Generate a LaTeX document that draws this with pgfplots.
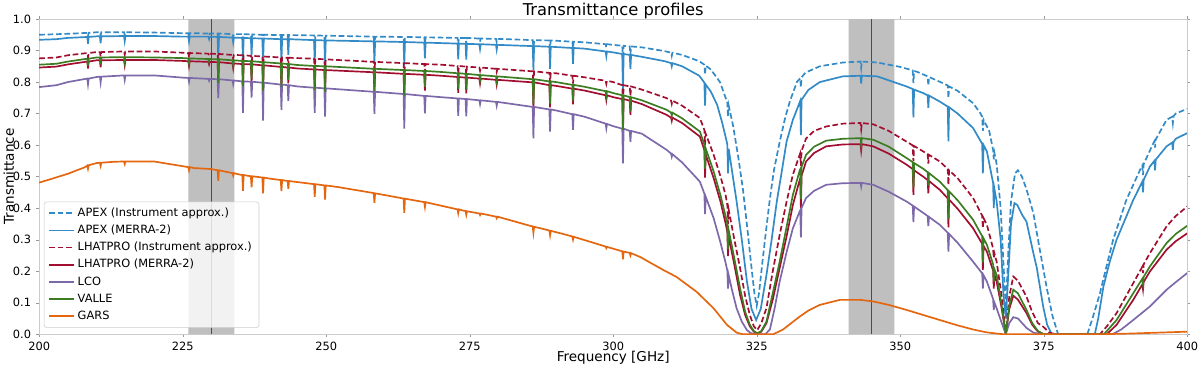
\documentclass[border=0pt]{standalone}
\usepackage{fontspec}
\setmainfont{DejaVu Sans}
\usepackage{pgfplots}
\pgfplotsset{compat=1.18}

\definecolor{cblue}{RGB}{50,138,198}
\definecolor{cred}{RGB}{162,14,48}
\definecolor{cgreen}{RGB}{60,125,35}
\definecolor{cpurple}{RGB}{125,105,170}
\definecolor{corange}{RGB}{228,102,15}
\definecolor{band}{RGB}{191,191,191}

\begin{document}
\begin{tikzpicture}
\begin{axis}[
    scale only axis,
    width=28.7cm, height=7.88cm,
    xmin=200, xmax=400, ymin=0, ymax=1,
    xtick={200,225,...,400},
    ytick={0,0.1,...,1.0},
    /pgf/number format/assume math mode=true,
    yticklabel style={/pgf/number format/fixed, /pgf/number format/fixed zerofill, /pgf/number format/precision=1},
    ticklabel style={font=\fontsize{8.1}{10}\selectfont},
    tick align=outside, major tick length=0.08cm,
    tick style={black!40},
    axis line style={black!20},
    every axis title shift=0pt,
    title={Transmittance profiles},
    title style={font=\fontsize{11.6}{14}\selectfont, at={(axis description cs:0.5,1)}, anchor=base, inner sep=0pt, yshift=0.1cm},
    xlabel={Frequency [GHz]},
    xlabel style={font=\fontsize{9.65}{12}\selectfont, at={(axis description cs:0.5,0)}, anchor=base, inner sep=0pt, yshift=-0.685cm},
    ylabel={Transmittance},
    ylabel style={font=\fontsize{9.65}{12}\selectfont, at={(axis description cs:-0.022,0.5)}, anchor=base, inner sep=0pt},
    legend cell align=left,
    legend style={at={(axis description cs:0.004,0.02)}, anchor=south west,
        font=\fontsize{8.1}{10}\selectfont, draw=black!20, rounded corners=2pt,
        fill=white, fill opacity=0.8, text opacity=1, draw opacity=1,
        nodes={text height=6.2pt, text depth=1.8pt, inner sep=2.1pt},
        /tikz/every even column/.append style={column sep=0.15cm}},
    every axis plot/.append style={line width=1.2pt},
    every axis plot post/.append style={legend image code/.code={\draw[#1] (0cm,0cm) -- (0.62cm,0cm);}},
]
% observation bands
\addplot[draw=none, fill=band, forget plot] coordinates {(226,0) (226,1) (234,1) (234,0)} \closedcycle;
\addplot[draw=none, fill=band, forget plot] coordinates {(341,0) (341,1) (349,1) (349,0)} \closedcycle;
\addplot[black!70, line width=0.9pt, forget plot] coordinates {(230,0) (230,1)};
\addplot[black!70, line width=0.9pt, forget plot] coordinates {(345,0) (345,1)};

% APEX (Instrument approx.)
\addplot[cblue, dash pattern=on 4pt off 2pt] coordinates {
(200,.950)(205,.953)
(208.38,.956)(208.5,.946)(208.62,.956)(210,.958)
(210.58,.958)(210.7,.948)(210.82,.958)
(214.78,.958)(214.9,.950)(215.02,.958)
(220,.957)(225,.955)
(225.98,.955)(226.1,.940)(226.22,.955)
(229.48,.954)(229.6,.948)(229.72,.954)
(231.08,.954)(231.2,.924)(231.32,.954)
(233.68,.952)(233.8,.942)(233.92,.952)
(235.38,.952)(235.5,.922)(235.62,.952)
(236.88,.951)(237,.931)(237.12,.951)
(238.88,.950)(239,.915)(239.12,.950)
(242.08,.949)(242.2,.919)(242.32,.949)
(243.28,.949)(243.4,.929)(243.52,.949)
(247.88,.948)(248,.918)(248.12,.948)
(249.68,.947)(249.8,.912)(249.92,.947)
(258.28,.944)(258.4,.914)(258.52,.944)
(263.48,.943)(263.6,.903)(263.72,.943)
(267.08,.942)(267.2,.922)(267.32,.942)
(272.88,.940)(273,.920)(273.12,.940)
(274.28,.940)(274.4,.920)(274.52,.940)
(276.68,.938)(276.8,.928)(276.92,.938)
(279.58,.937)(279.7,.927)(279.82,.937)
(285.98,.933)(286.1,.898)(286.22,.933)
(288.88,.932)(289,.907)(289.12,.932)
(292.88,.928)(293,.908)(293.12,.928)
(295,.926)
(298.68,.920)(298.8,.910)(298.92,.920)
(300,.918)
(301.58,.915)(301.7,.855)(301.82,.915)
(302.88,.913)(303,.888)(303.12,.913)
(305,.910)(309,.898)
(310.08,.893)(310.2,.883)(310.32,.893)
(312,.886)(315,.866)
(315.88,.855)(316,.823)(316.12,.852)
(317,.84)(318.6,.80)
(319.88,.735)(320,.69)(320.12,.725)
(320.9,.66)(321.8,.56)(322.6,.46)(323.4,.33)(324.1,.21)(324.6,.13)(325.0,.09)(325.4,.13)(326.0,.23)(326.7,.34)(327.3,.43)(328.0,.52)(329.0,.61)(330.0,.69)(330.8,.74)(332.0,.80)
(332.58,.812)(332.7,.783)(332.82,.815)
(333.5,.83)(336,.85)(340,.862)
(343.08,.865)(343.2,.845)(343.32,.865)
(346,.862)(350,.848)
(352.18,.837)(352.3,.797)(352.42,.835)
(353,.832)
(354.78,.818)(354.9,.788)(355.02,.816)
(357,.80)
(358.28,.789)(358.4,.749)(358.52,.786)
(360,.772)(362.7,.733)(364,.70)
(364.28,.69)(364.4,.645)(364.52,.68)
(365.5,.645)
(366.18,.585)(366.3,.555)(366.42,.575)
(366.8,.54)(367.5,.40)(368.0,.22)(368.4,.08)(368.8,.25)(369.3,.42)(370.0,.51)(370.5,.52)(371.2,.50)(372,.46)(373.2,.384)(374.3,.27)(375.0,.20)(375.5,.15)(376.5,.06)(377.5,0)(382.6,0)(383.5,.05)(384.8,.13)(386,.22)(387.1,.30)(389.4,.426)(391.8,.522)
(392.18,.535)(392.3,.505)(392.42,.54)
(394.1,.606)
(394.28,.612)(394.4,.592)(394.52,.618)
(396.4,.68)
(397.38,.69)(397.5,.67)(397.62,.692)
(398,.70)(400,.715)
};
\addlegendentry{APEX (Instrument approx.)}

% APEX (MERRA-2)
\addplot[cblue] coordinates {
(200,.934)(203,.936)(205,.940)
(208.38,.943)(208.5,.921)(208.62,.943)(210,.945)
(210.58,.945)(210.7,.923)(210.82,.945)
(214.78,.946)(214.9,.930)(215.02,.946)
(220,.946)(225,.944)
(225.98,.944)(226.1,.929)(226.22,.944)
(229.48,.944)(229.6,.936)(229.72,.944)
(231.08,.943)(231.2,.873)(231.32,.943)
(233.68,.941)(233.8,.926)(233.92,.941)
(235.38,.940)(235.5,.865)(235.62,.940)
(236.88,.939)(237,.884)(237.12,.939)
(238.88,.938)(239,.853)(239.12,.938)
(242.08,.936)(242.2,.866)(242.32,.936)
(243.28,.936)(243.4,.886)(243.52,.936)
(247.88,.933)(248,.863)(248.12,.933)
(249.68,.932)(249.8,.852)(249.92,.932)
(258.28,.929)(258.4,.859)(258.52,.929)
(263.48,.927)(263.6,.852)(263.72,.927)
(267.08,.925)(267.2,.875)(267.32,.925)
(272.88,.922)(273,.872)(273.12,.922)
(274.28,.921)(274.4,.871)(274.52,.921)
(276.68,.920)(276.8,.905)(276.92,.920)
(279.58,.918)(279.7,.903)(279.82,.918)
(285.98,.914)(286.1,.839)(286.22,.914)
(288.88,.912)(289,.842)(289.12,.912)
(292.88,.908)(293,.858)(293.12,.908)
(295,.906)
(298.68,.897)(298.8,.882)(298.92,.897)
(300,.894)
(301.58,.889)(301.7,.769)(301.82,.889)
(302.88,.886)(303,.841)(303.12,.886)
(305,.880)(309,.866)
(310.08,.860)(310.2,.850)(310.32,.860)
(312,.850)(315,.82)
(315.88,.798)(316,.725)(316.12,.792)
(317,.77)(318.1,.728)(319.0,.67)
(319.88,.603)(320,.51)(320.12,.588)
(320.6,.53)(321.5,.421)(322.4,.30)(323.3,.167)(324.1,.08)(324.9,.045)(325.7,.08)(326.7,.188)(327.6,.30)(328.5,.421)(329.4,.52)(330.2,.611)(331.3,.68)
(332.58,.740)(332.7,.632)(332.82,.744)
(334,.775)(336,.80)(340,.818)
(343.08,.82)(343.2,.795)(343.32,.82)
(346,.818)(351.1,.786)
(352.18,.778)(352.3,.688)(352.42,.776)
(354,.765)
(354.78,.758)(354.9,.718)(355.02,.757)
(356.9,.738)
(358.28,.722)(358.4,.612)(358.52,.720)
(360,.70)(362.7,.654)
(364.28,.604)(364.4,.51)(364.52,.60)
(365.1,.58)
(366.18,.48)(366.3,.40)(366.42,.46)
(366.8,.421)(367.5,.30)(368.0,.12)(368.4,.05)(368.8,.18)(369.3,.35)(369.9,.416)(370.4,.41)(371.2,.38)(372.0,.357)(373.2,.257)(373.8,.21)(374.9,.088)(375.6,.03)(376.4,0)(383.9,0)(384.5,.05)(385.4,.151)(386.5,.23)(387.7,.30)(390.6,.426)
(392.18,.484)(392.3,.45)(392.42,.49)
(393.5,.532)
(394.28,.550)(394.4,.52)(394.52,.554)
(396.4,.596)
(397.38,.608)(397.5,.585)(397.62,.61)
(398,.62)(400,.638)
};
\addlegendentry{APEX (MERRA-2)}

% LHATPRO (Instrument approx.)
\addplot[cred, dash pattern=on 4pt off 2pt] coordinates {
(200,.875)(203,.878)(205,.885)
(208.38,.892)(208.5,.878)(208.62,.892)(210,.895)
(210.58,.895)(210.7,.881)(210.82,.895)
(214.78,.897)(214.9,.887)(215.02,.897)
(220,.897)(225,.893)
(225.98,.892)(226.1,.877)(226.22,.892)
(229.48,.890)(229.6,.884)(229.72,.890)
(231.08,.889)(231.2,.859)(231.32,.889)
(233.68,.886)(233.8,.874)(233.92,.886)
(235.38,.885)(235.5,.845)(235.62,.885)
(236.88,.883)(237,.853)(237.12,.883)
(238.88,.881)(239,.841)(239.12,.881)
(242.08,.878)(242.2,.843)(242.32,.878)
(243.28,.877)(243.4,.852)(243.52,.877)
(245,.876)
(247.88,.874)(248,.839)(248.12,.874)
(249.68,.872)(249.8,.832)(249.92,.872)
(258.28,.864)(258.4,.834)(258.52,.864)
(263.48,.860)(263.6,.820)(263.72,.860)
(267.08,.857)(267.2,.832)(267.32,.857)
(270,.855)
(272.88,.851)(273,.826)(273.12,.851)
(274.28,.849)(274.4,.824)(274.52,.849)
(276.68,.846)(276.8,.836)(276.92,.846)
(279.58,.842)(279.7,.832)(279.82,.842)
(285.98,.834)(286.1,.794)(286.22,.834)
(288.88,.829)(289,.799)(289.12,.829)
(290,.828)
(292.88,.820)(293,.795)(293.12,.820)
(295,.815)
(298.68,.804)(298.8,.794)(298.92,.804)
(300,.800)
(301.58,.790)(301.7,.730)(301.82,.790)
(302.88,.786)(303,.756)(303.12,.786)
(305,.776)(309.3,.749)
(310.08,.741)(310.2,.731)(310.32,.741)
(312,.725)(315.1,.686)
(315.88,.648)(316,.60)(316.12,.636)
(317.5,.569)(318.7,.50)(319.6,.44)
(319.88,.41)(320,.35)(320.12,.395)
(321,.31)(322.1,.21)(323,.12)(323.8,.061)(324.5,.025)(325.1,.013)(325.8,.035)(326.7,.083)(327.8,.20)(329.0,.315)(330.2,.42)(331.3,.506)(332.5,.57)
(332.58,.574)(332.7,.534)(332.82,.582)
(333.6,.621)(335,.645)(337.1,.659)(340,.668)
(343.08,.67)(343.2,.65)(343.32,.67)
(345.3,.666)(348,.645)(351.1,.611)
(352.18,.599)(352.3,.549)(352.42,.597)
(354,.58)
(354.78,.571)(354.9,.541)(355.02,.569)
(356.9,.548)
(358.28,.524)(358.4,.474)(358.52,.520)
(360,.495)(362.7,.432)
(364.28,.376)(364.4,.336)(364.52,.368)
(365.1,.347)
(366.18,.272)(366.3,.242)(366.42,.256)
(366.8,.23)(367.6,.13)(368.4,0)(369.0,.12)(369.7,.183)(370.5,.17)(372.0,.119)(373.0,.07)(374.0,.035)(374.9,.024)(376,.005)(377,0)(384.8,0)(386,.025)(387.7,.067)(390.6,.162)
(392.18,.214)(392.3,.194)(392.42,.222)
(393.5,.257)(396.4,.342)(398,.375)(400,.405)
};
\addlegendentry{LHATPRO (Instrument approx.)}

% LHATPRO (MERRA-2)
\addplot[cred] coordinates {
(200,.846)(203,.849)(205,.856)
(208.38,.865)(208.5,.843)(208.62,.865)(210,.869)
(210.58,.869)(210.7,.847)(210.82,.869)
(214.78,.870)(214.9,.854)(215.02,.870)
(220,.870)(225,.867)
(225.98,.866)(226.1,.851)(226.22,.866)
(229.48,.864)(229.6,.856)(229.72,.864)
(231.08,.863)(231.2,.793)(231.32,.863)
(233.68,.859)(233.8,.844)(233.92,.859)
(235.38,.857)(235.5,.777)(235.62,.857)
(236.88,.856)(237,.801)(237.12,.856)
(238.88,.853)(239,.763)(239.12,.853)
(242.08,.848)(242.2,.773)(242.32,.848)
(243.28,.846)(243.4,.796)(243.52,.846)
(245,.843)
(247.88,.840)(248,.765)(248.12,.840)
(249.68,.838)(249.8,.758)(249.92,.838)
(258.28,.831)(258.4,.761)(258.52,.831)
(263.48,.826)(263.6,.746)(263.72,.826)
(267.08,.823)(267.2,.773)(267.32,.823)
(270,.820)
(272.88,.816)(273,.766)(273.12,.816)
(274.28,.814)(274.4,.764)(274.52,.814)
(276.68,.811)(276.8,.796)(276.92,.811)
(279.58,.807)(279.7,.792)(279.82,.807)
(285.98,.799)(286.1,.719)(286.22,.799)
(288.88,.790)(289,.720)(289.12,.790)
(290,.788)
(292.88,.779)(293,.729)(293.12,.779)
(295,.773)
(298.68,.758)(298.8,.743)(298.92,.758)
(300,.752)
(301.58,.746)(301.7,.636)(301.82,.746)
(302.88,.741)(303,.696)(303.12,.741)
(305,.730)(309.3,.696)
(310.08,.687)(310.2,.677)(310.32,.687)
(312,.670)(315.1,.627)
(315.88,.584)(316,.497)(316.12,.570)
(317.5,.495)(318.7,.42)(319.6,.35)
(319.88,.325)(320,.248)(320.12,.31)
(321,.23)(322.1,.125)(323,.06)(323.8,.025)(324.5,.008)(325.1,.002)(325.8,.008)(326.7,.035)(327.8,.11)(329.0,.21)(330.2,.31)(331.3,.41)(332.5,.49)
(332.58,.494)(332.7,.40)(332.82,.503)
(333.6,.548)(335,.575)(337.1,.596)(340,.602)
(343.08,.603)(343.2,.583)(343.32,.603)
(345.3,.596)(348,.573)(351.1,.538)
(352.18,.524)(352.3,.442)(352.42,.520)
(354,.50)
(354.78,.489)(354.9,.447)(355.02,.486)
(356.9,.458)
(358.28,.431)(358.4,.339)(358.52,.427)
(360,.398)(362.7,.336)
(364.28,.287)(364.4,.204)(364.52,.280)
(365.1,.262)
(366.18,.202)(366.3,.145)(366.42,.189)
(366.8,.167)(367.6,.09)(368.4,0)(369.0,.08)(369.7,.122)(370.5,.11)(372.0,.067)(373,.03)(374,.008)(375,0)(386,0)(387.7,.03)(390.6,.109)
(392.18,.158)(392.3,.142)(392.42,.166)
(393.5,.199)(396.4,.268)(398,.295)(400,.32)
};
\addlegendentry{LHATPRO (MERRA-2)}

% LCO
\addplot[cpurple] coordinates {
(200,.784)(203,.790)(205,.800)
(208.38,.811)(208.5,.793)(208.62,.811)(210,.816)
(210.58,.817)(210.7,.799)(210.82,.817)
(214.78,.821)(214.9,.807)(215.02,.821)
(220,.821)(225,.814)
(225.98,.813)(226.1,.801)(226.22,.813)
(229.48,.810)(229.6,.804)(229.72,.810)
(231.08,.809)(231.2,.749)(231.32,.809)
(233.68,.805)(233.8,.793)(233.92,.805)
(235.38,.802)(235.5,.702)(235.62,.802)
(236.88,.801)(237,.751)(237.12,.801)
(238.88,.798)(239,.678)(239.12,.798)
(242.08,.792)(242.2,.712)(242.32,.792)
(243.28,.790)(243.4,.740)(243.52,.790)
(245,.786)
(247.88,.782)(248,.702)(248.12,.782)
(249.68,.780)(249.8,.690)(249.92,.780)
(258.28,.769)(258.4,.699)(258.52,.769)
(263.48,.762)(263.6,.652)(263.72,.762)
(267.08,.756)(267.2,.701)(267.32,.756)
(270,.752)
(272.88,.748)(273,.693)(273.12,.748)
(274.28,.746)(274.4,.691)(274.52,.746)
(276.68,.742)(276.8,.730)(276.92,.742)
(279.58,.737)(279.7,.725)(279.82,.737)
(285.98,.721)(286.1,.621)(286.22,.721)
(288.88,.713)(289,.643)(289.12,.713)
(290,.710)
(292.88,.698)(293,.648)(293.12,.698)
(295,.690)
(298.68,.668)(298.8,.653)(298.92,.667)
(300,.660)
(301.58,.652)(301.7,.542)(301.82,.652)
(302.88,.645)(303,.610)(303.12,.645)
(305,.636)(309.3,.585)
(310.08,.573)(310.2,.563)(310.32,.571)
(312,.545)(315.1,.484)
(315.88,.446)(316,.381)(316.12,.436)
(317.5,.368)(318.7,.29)(319.6,.225)
(319.88,.202)(320,.145)(320.12,.187)
(320.7,.14)(321.5,.082)(322.4,.04)(323.3,.013)(324,.003)(325,0)(326.5,0)(327.3,.015)(328.1,.08)(329.0,.167)(330.2,.26)(331.3,.336)(332.5,.39)
(332.58,.393)(332.7,.307)(332.82,.401)
(333.6,.432)(335,.455)(337.1,.474)(340,.479)
(343.08,.48)(343.2,.468)(343.32,.48)
(345.3,.474)(348,.452)(351.1,.421)
(352.18,.408)(352.3,.356)(352.42,.405)
(354,.385)
(354.78,.375)(354.9,.343)(355.02,.372)
(356.9,.347)
(358.28,.322)(358.4,.262)(358.52,.318)
(360,.29)(362.7,.23)
(364.28,.193)(364.4,.145)(364.52,.187)
(365.1,.167)
(366.18,.112)(366.3,.077)(366.42,.100)
(366.8,.082)(367.6,.04)(368.4,0)(369.0,.035)(369.7,.054)(370.5,.05)(372.0,.02)(373.2,.005)(374.5,0)(387,0)(388.5,.015)(390.6,.045)(393.5,.088)(396.4,.141)(398,.165)(400,.194)
};
\addlegendentry{LCO}

% VALLE
\addplot[cgreen] coordinates {
(200,.855)(203,.858)(205,.865)
(208.38,.874)(208.5,.852)(208.62,.874)(210,.878)
(210.58,.878)(210.7,.856)(210.82,.878)
(214.78,.879)(214.9,.863)(215.02,.879)
(220,.878)(225,.876)
(225.98,.875)(226.1,.860)(226.22,.875)
(229.48,.873)(229.6,.865)(229.72,.873)
(231.08,.872)(231.2,.797)(231.32,.872)
(233.68,.869)(233.8,.854)(233.92,.869)
(235.38,.867)(235.5,.787)(235.62,.867)
(236.88,.866)(237,.811)(237.12,.866)
(238.88,.863)(239,.773)(239.12,.863)
(242.08,.859)(242.2,.784)(242.32,.859)
(243.28,.857)(243.4,.807)(243.52,.857)
(245,.854)
(247.88,.851)(248,.776)(248.12,.851)
(249.68,.850)(249.8,.770)(249.92,.850)
(258.28,.842)(258.4,.772)(258.52,.842)
(263.48,.838)(263.6,.758)(263.72,.838)
(267.08,.835)(267.2,.785)(267.32,.835)
(270,.832)
(272.88,.828)(273,.778)(273.12,.828)
(274.28,.826)(274.4,.776)(274.52,.826)
(276.68,.822)(276.8,.807)(276.92,.822)
(279.58,.818)(279.7,.803)(279.82,.818)
(285.98,.809)(286.1,.729)(286.22,.809)
(288.88,.802)(289,.732)(289.12,.802)
(290,.800)
(292.88,.791)(293,.741)(293.12,.791)
(295,.785)
(298.68,.771)(298.8,.756)(298.92,.771)
(300,.765)
(301.58,.758)(301.7,.648)(301.82,.758)
(302.88,.752)(303,.707)(303.12,.752)
(305,.742)(309.3,.712)
(310.08,.703)(310.2,.693)(310.32,.703)
(312,.685)(315.1,.643)
(315.88,.602)(316,.525)(316.12,.589)
(317.5,.516)(318.7,.44)(319.6,.372)
(319.88,.35)(320,.27)(320.12,.33)
(321,.25)(322.1,.146)(323,.07)(323.8,.03)(324.5,.01)(325.1,.003)(325.8,.01)(326.7,.04)(327.8,.13)(329.0,.23)(330.2,.34)(331.3,.442)(332.5,.52)
(332.58,.523)(332.7,.429)(332.82,.531)
(333.6,.569)(335,.595)(337.1,.614)(340,.62)
(343.08,.622)(343.2,.602)(343.32,.622)
(345.3,.617)(348,.595)(351.1,.559)
(352.18,.546)(352.3,.465)(352.42,.543)
(354,.525)
(354.78,.514)(354.9,.472)(355.02,.511)
(356.9,.484)
(358.28,.457)(358.4,.365)(358.52,.453)
(360,.425)(362.7,.363)
(364.28,.311)(364.4,.227)(364.52,.304)
(365.1,.284)
(366.18,.222)(366.3,.166)(366.42,.206)
(366.8,.188)(367.6,.10)(368.4,0)(369.0,.09)(369.7,.141)(370.5,.13)(372.0,.077)(373,.035)(374,.01)(375,0)(385.5,0)(387.7,.045)(390.6,.13)
(392.18,.176)(392.3,.159)(392.42,.182)
(393.5,.215)(396.4,.289)(398,.318)(400,.344)
};
\addlegendentry{VALLE}

% GARS
\addplot[corange] coordinates {
(200,.481)(202,.492)(205,.509)(208,.530)
(208.38,.535)(208.5,.525)(208.62,.536)(210,.543)
(210.58,.544)(210.7,.534)(210.82,.544)(213,.547)
(214.78,.548)(214.9,.540)(215.02,.548)
(220,.548)(225,.533)
(225.98,.530)(226.1,.520)(226.22,.530)
(227,.527)(230,.524)
(231.08,.520)(231.2,.487)(231.32,.520)
(233.68,.511)(233.8,.503)(233.92,.511)
(235,.506)
(235.38,.505)(235.5,.455)(235.62,.505)
(236.88,.501)(237,.466)(237.12,.501)
(238.88,.497)(239,.447)(239.12,.497)
(240,.494)
(242.08,.489)(242.2,.454)(242.32,.489)
(243.28,.486)(243.4,.461)(243.52,.486)
(246.6,.479)
(247.88,.476)(248,.436)(248.12,.476)
(249.68,.472)(249.8,.427)(249.92,.472)
(252,.467)(258.2,.448)
(258.28,.447)(258.4,.417)(258.52,.447)
(263,.432)
(263.48,.430)(263.6,.385)(263.72,.430)
(267.08,.419)(267.2,.404)(267.32,.419)
(268,.416)
(272.88,.396)(273,.384)(273.12,.396)
(273.9,.392)
(274.28,.391)(274.4,.379)(274.52,.390)
(276.68,.383)(276.8,.378)(276.92,.383)
(279.58,.373)(279.7,.368)(279.82,.373)
(285.5,.344)
(285.98,.342)(286.1,.322)(286.22,.341)
(288.88,.329)(289,.314)(289.12,.328)
(291.3,.318)
(292.88,.310)(293,.300)(293.12,.309)
(297.1,.287)
(298.68,.278)(298.8,.273)(298.92,.277)
(301.58,.263)(301.7,.238)(301.82,.262)
(302.88,.258)(303,.250)(303.12,.257)
(304.7,.245)(308.7,.204)(311,.182)(314.5,.135)(317.5,.082)(319.8,.03)(321.5,.005)(322.5,0)(327.9,0)(329.6,.015)(331,.035)(332.5,.056)(334,.075)(336,.093)(339.5,.109)(343,.109)(345.3,.104)(348,.093)(351.1,.077)(354,.061)(356.9,.045)(360,.028)(362.7,.015)(365,.006)(366.8,.002)(368,0)(385,0)(390,.002)(395,.005)(400,.008)
};
\addlegendentry{GARS}
\end{axis}
\pgfresetboundingbox
\path[use as bounding box] ([xshift=-0.98cm,yshift=-0.79cm]current axis.south west) rectangle ([xshift=0.32cm,yshift=0.475cm]current axis.north east);
\end{tikzpicture}
\end{document}
